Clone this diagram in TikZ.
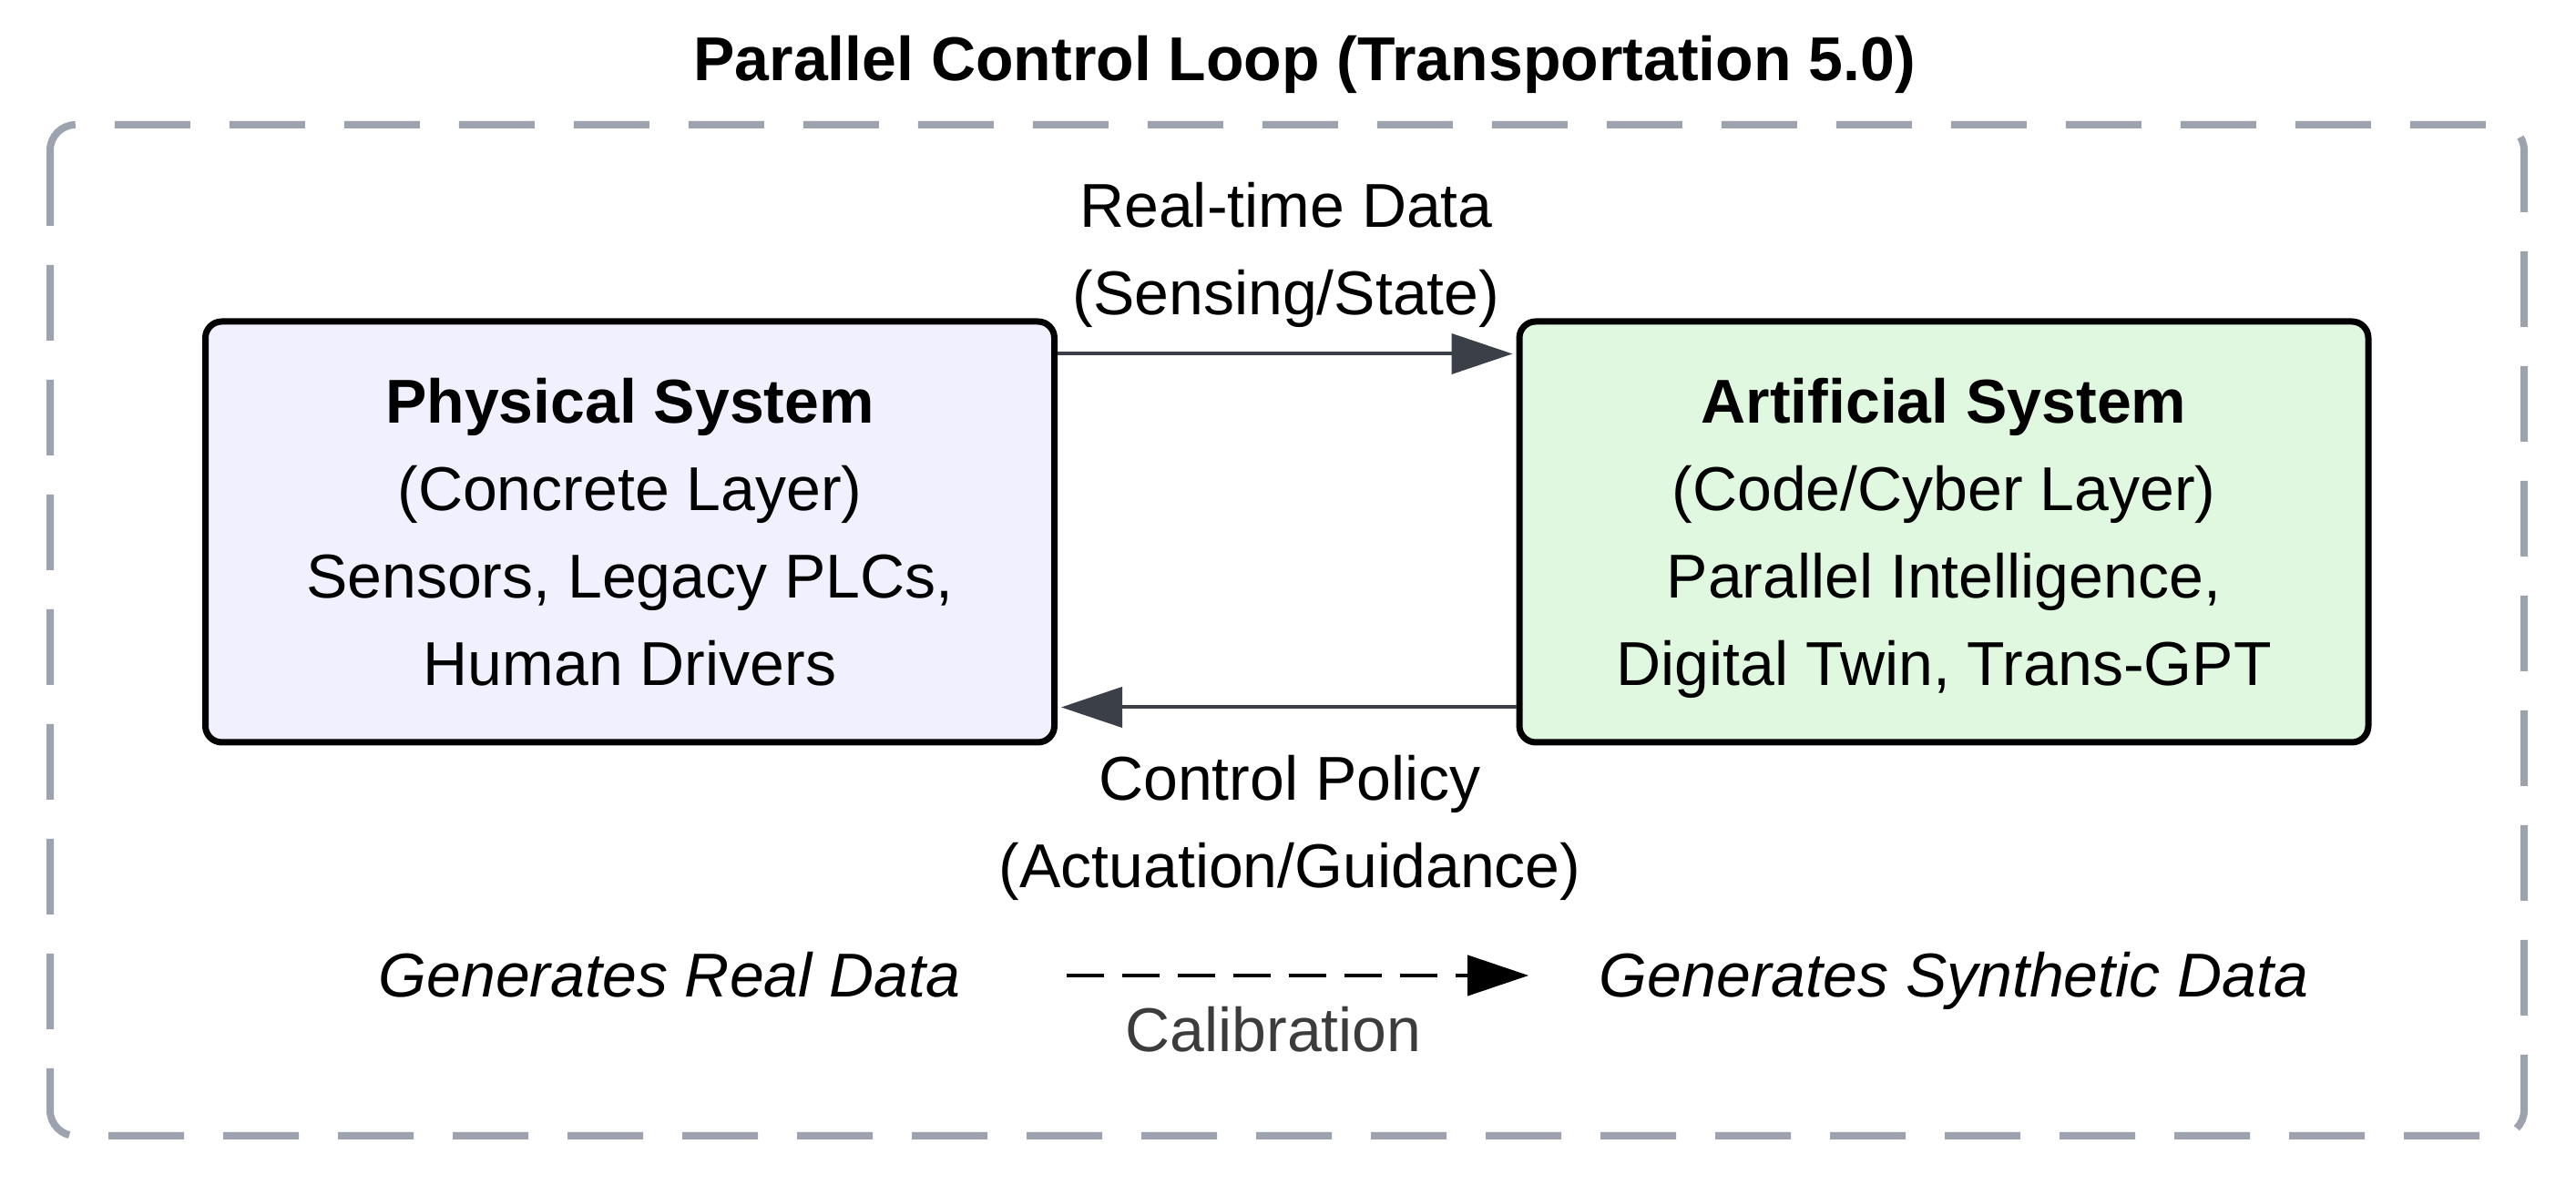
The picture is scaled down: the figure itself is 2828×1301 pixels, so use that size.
\documentclass[tikz,border=0pt]{standalone}
\usepackage{fontspec}
\setmainfont{Liberation Sans}
\usetikzlibrary{arrows.meta,calc}
\tikzset{every picture/.style={line width=0.75pt}}
\tikzset{
  txt/.style={inner sep=0pt, align=center, font=\fontsize{17}{24}\selectfont},
  sysbox/.style={txt, draw=black, line width=1.75pt, rounded corners=4.5pt, minimum width=233pt, minimum height=115.5pt},
  frame/.style={draw={rgb, 255:red, 156; green, 163; blue, 175}, line width=2pt, rounded corners=7pt, dash pattern=on 20.75pt off 10.75pt},
  flow/.style={draw={rgb, 255:red, 59; green, 64; blue, 72}, line width=1pt, shorten >=1pt, -{Triangle[length=16.75pt,width=11pt]}},
  calib/.style={draw=black, line width=1pt, dash pattern=on 10.25pt off 5pt, -{Triangle[length=16.75pt,width=11pt]}}
}

\begin{document}
\begin{tikzpicture}[x=0.25pt,y=0.25pt,yscale=-1,xscale=1]
\useasboundingbox (0,0) rectangle (2828,1301);

% Title
\node [txt, anchor=base, font=\fontsize{17}{24}\selectfont\bfseries] (title) at (1432,89) {Parallel Control Loop (Transportation 5.0)};

%Shape: dashed frame
\draw [frame] (55,137) rectangle (2771,1247);

%Shape: the two systems
\node [sysbox, fill={rgb, 255:red, 240; green, 240; blue, 255}] (phys) at (691.5,584) {\textbf{Physical System}\\(Concrete Layer)\\Sensors, Legacy PLCs,\\Human Drivers};
\node [sysbox, fill={rgb, 255:red, 224; green, 248; blue, 224}] (art) at (2134,584) {\textbf{Artificial System}\\(Code/Cyber Layer)\\Parallel Intelligence,\\\smash{Digital Twin, Trans-GPT}};

%Straight Lines: the loop
\draw [flow] ($(phys.north east)+(0,39)$) -- ($(art.north west)+(0,39)$);
\draw [flow] ($(art.south west)+(0,-42)$) -- ($(phys.south east)+(0,-42)$);

% Text Node
\node [txt, anchor=north] (sensing) at (1412,199) {Real-time Data\\(Sensing/State)};
% Text Node
\node [txt, anchor=north] (policy) at (1416,828) {Control Policy\\(Actuation/Guidance)};

% Text Node
\node [txt, anchor=base, font=\fontsize{17}{24}\selectfont\itshape] (real) at (735,1095) {Generates Real Data};
% Text Node
\node [txt, anchor=base, font=\fontsize{17}{24}\selectfont\itshape] (synth) at (2145,1095) {Generates Synthetic Data};

%Straight Lines: calibration
\draw [calib] ($(real.base east)+(115,-24)$) -- ($(synth.base west)+(-76,-24)$);
% Text Node
\node [txt, anchor=north, text={rgb, 255:red, 60; green, 60; blue, 60}] (calibration) at (1398,1104) {Calibration};

\end{tikzpicture}
\end{document}
